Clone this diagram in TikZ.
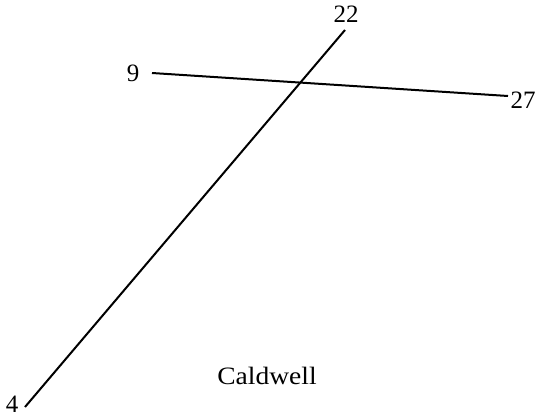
\documentclass[tikz,border=0pt]{standalone}
\usepackage{fontspec}
\setmainfont{Liberation Serif}
\tikzset{
  lbl/.style={inner sep=0pt, font=\fontsize{25}{29}\selectfont},
  seg/.style={line width=2pt, black}
}
\begin{document}
\begin{tikzpicture}[x=1pt, y=-1pt]
	\useasboundingbox (0,0) rectangle (541,418);
	% End points and labels:
	\coordinate (p4) at (25,407);
	\coordinate (p22) at (345,30);
	\coordinate (p9) at (152,73);
	\coordinate (p27) at (508,96);
	\node[lbl] (l22) at (346,14){22};
	\node[lbl] (l9) at (133,73){9};
	\node[lbl] (l27) at (523,100){27};
	\node[lbl] (l4) at (12,404){4};
	\node[lbl, xscale=1.1] (name) at (267,376){Caldwell};
	% Segments:
	\draw[seg] (p4) -- (p22);
	\draw[seg] (p9) -- (p27);
\end{tikzpicture}
\end{document}
